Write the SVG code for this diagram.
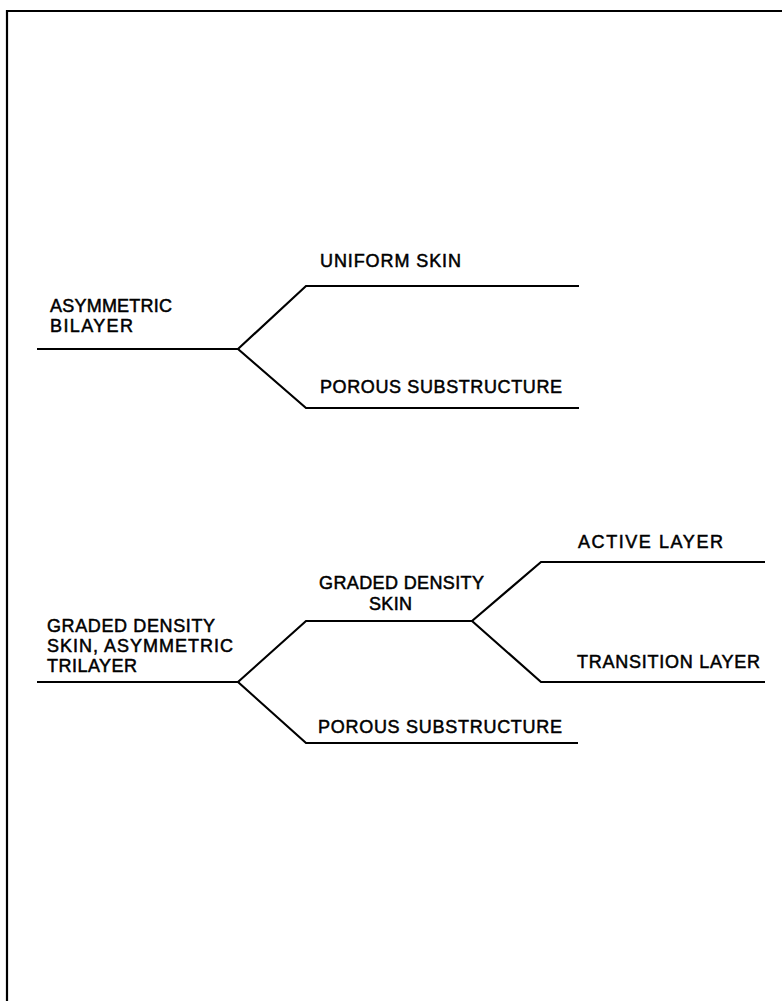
<svg xmlns="http://www.w3.org/2000/svg" width="782" height="1001" viewBox="0 0 782 1001">
<style>
.ln{fill:none;stroke:#000;stroke-width:2.2;stroke-linejoin:miter}
.t{font-family:"Liberation Sans",Arial,sans-serif;font-size:18px;fill:#000;stroke:#000;stroke-width:0.5}
</style>
<rect width="782" height="1001" fill="#fff"/>
<g id="frame"><path class="ln" d="M7,1001 V11 H782"/></g>
<g id="connectors">
<path class="ln" d="M37,349 H238 L306,286 H579"/>
<path class="ln" d="M238,349 L306,408 H579"/>
<path class="ln" d="M37,682 H238 L306,621 H472 L541,562 H765"/>
<path class="ln" d="M238,682 L306,743 H578"/>
<path class="ln" d="M472,621 L541,682 H765"/>
</g>
<g id="bilayer"><text class="t" x="50" y="312" textLength="122" lengthAdjust="spacing">ASYMMETRIC</text><text class="t" x="50" y="332" textLength="83" lengthAdjust="spacing">BILAYER</text></g>
<g id="uniform-skin"><text class="t" x="320" y="267" textLength="141" lengthAdjust="spacing">UNIFORM SKIN</text></g>
<g id="porous-1"><text class="t" x="320" y="393" textLength="242" lengthAdjust="spacing">POROUS SUBSTRUCTURE</text></g>
<g id="trilayer"><text class="t" x="47" y="632" textLength="168" lengthAdjust="spacing">GRADED DENSITY</text><text class="t" x="47" y="652" textLength="186" lengthAdjust="spacing">SKIN, ASYMMETRIC</text><text class="t" x="47" y="672" textLength="90" lengthAdjust="spacing">TRILAYER</text></g>
<g id="graded-skin"><text class="t" x="319" y="589" textLength="165" lengthAdjust="spacing">GRADED DENSITY</text><text class="t" x="369" y="610" textLength="43" lengthAdjust="spacing">SKIN</text></g>
<g id="porous-2"><text class="t" x="318" y="733" textLength="244" lengthAdjust="spacing">POROUS SUBSTRUCTURE</text></g>
<g id="active"><text class="t" x="578" y="548" textLength="145" lengthAdjust="spacing">ACTIVE LAYER</text></g>
<g id="transition"><text class="t" x="577" y="668" textLength="183" lengthAdjust="spacing">TRANSITION LAYER</text></g>
</svg>
